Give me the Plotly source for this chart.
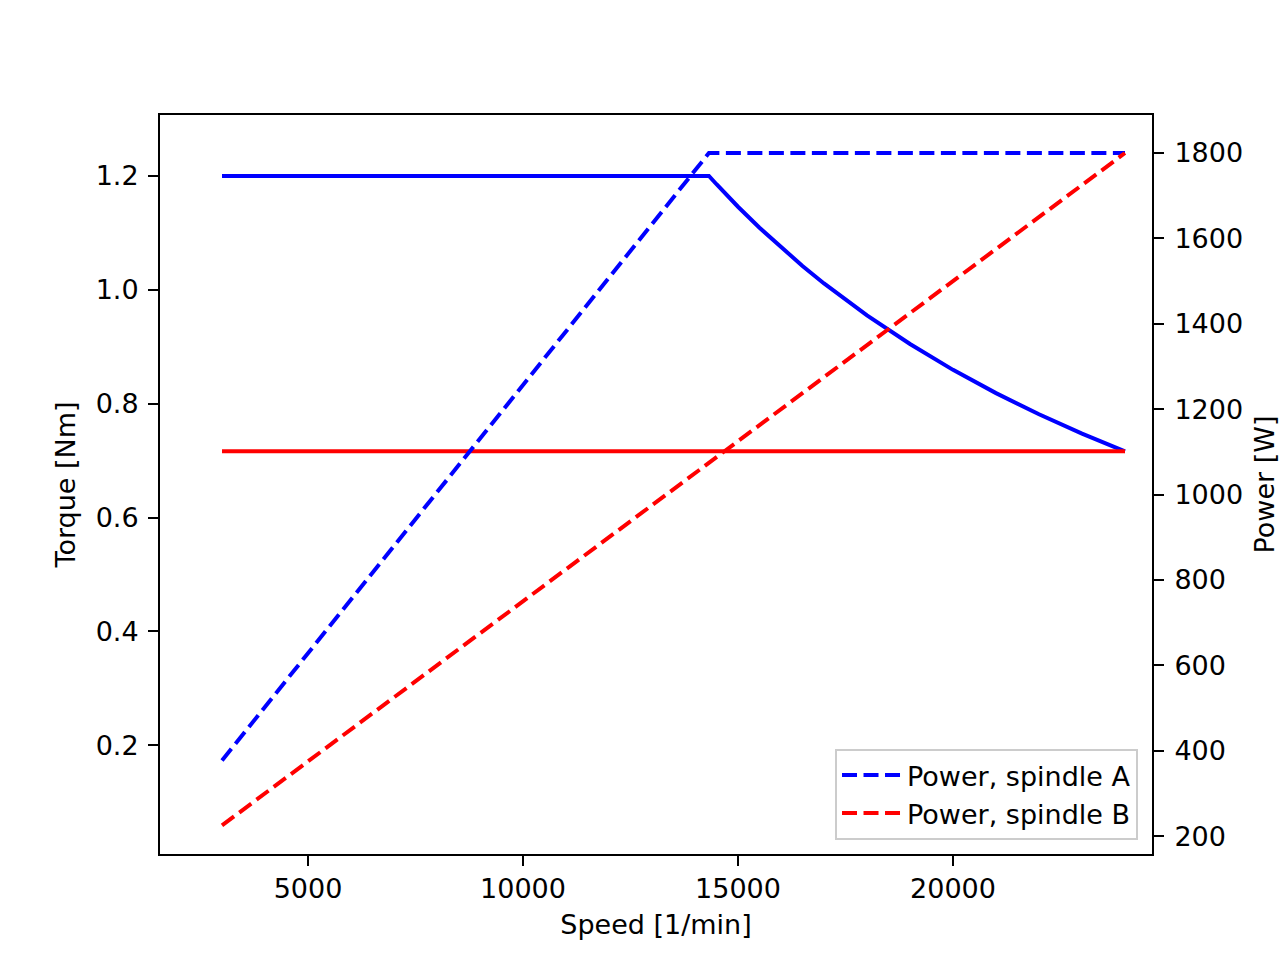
import plotly.graph_objects as go

speed_A = [3000, 14000, 14200, 14324, 14500, 14700, 15000, 15500, 16000, 16500, 17000, 18000, 19000, 20000, 21000, 22000, 23000, 24000]
torque_A = [1.2, 1.2, 1.2, 1.2, 1.1854, 1.1693, 1.1459, 1.1090, 1.0743, 1.0418, 1.0111, 0.9549, 0.9047, 0.8594, 0.8185, 0.7813, 0.7473, 0.7162]
power_A = [377, 1759, 1784, 1800, 1800, 1800, 1800, 1800, 1800, 1800, 1800, 1800, 1800, 1800, 1800, 1800, 1800, 1800]

speed_B = [3000, 24000]
torque_B = [0.7162, 0.7162]
power_B = [225, 1800]

x_ticks = [5000, 10000, 15000, 20000]
y_ticks = [0.2, 0.4, 0.6, 0.8, 1.0, 1.2]
y2_ticks = [200, 400, 600, 800, 1000, 1200, 1400, 1600, 1800]

BLUE = "#0000ff"
RED = "#ff0000"
LW = 4
DASH = "15px,6.5px"
FONT = dict(family="DejaVu Sans", size=27, color="black")

fig = go.Figure()
fig.add_trace(go.Scatter(x=speed_A, y=torque_A, mode="lines", line=dict(color=BLUE, width=LW),
                         showlegend=False, yaxis="y"))
fig.add_trace(go.Scatter(x=speed_B, y=torque_B, mode="lines", line=dict(color=RED, width=LW),
                         showlegend=False, yaxis="y"))
fig.add_trace(go.Scatter(x=speed_A, y=power_A, mode="lines", name="Power, spindle A",
                         line=dict(color=BLUE, width=LW, dash=DASH), yaxis="y2"))
fig.add_trace(go.Scatter(x=speed_B, y=power_B, mode="lines", name="Power, spindle B",
                         line=dict(color=RED, width=LW, dash=DASH), yaxis="y2"))

axis_common = dict(showgrid=False, zeroline=False, showline=True, linecolor="black", linewidth=2,
                   ticks="outside", ticklen=10, tickwidth=2, tickcolor="black", tickfont=FONT,
                   automargin=False)

fig.update_layout(
    width=1280, height=960,
    margin=dict(l=160, r=128, t=115, b=106),
    paper_bgcolor="white", plot_bgcolor="white",
    font=FONT,
    xaxis=dict(range=[1558, 24628], tickvals=x_ticks, tickformat="d", mirror=True,
               title=dict(text="Speed [1/min]", font=FONT, standoff=12), **axis_common),
    yaxis=dict(range=[0.009, 1.307], tickvals=y_ticks, tickformat=".1f", ticklabelstandoff=4,
               title=dict(text="Torque [Nm]", font=FONT, standoff=12), **axis_common),
    yaxis2=dict(range=[158, 1889], tickvals=y2_ticks, tickformat="d", overlaying="y", side="right",
                ticklabelstandoff=5,
                title=dict(text="Power [W]", font=FONT, standoff=14), **axis_common),
    legend=dict(x=0.9859, y=0.019, xanchor="right", yanchor="bottom",
                bgcolor="rgba(255,255,255,0.8)", bordercolor="#cccccc", borderwidth=2,
                itemwidth=60, font=FONT),
)

fig.write_html("out.html")
